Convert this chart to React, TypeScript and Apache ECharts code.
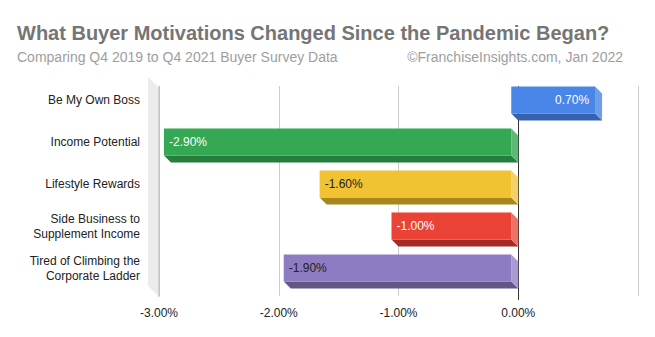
import React, { useEffect, useRef } from "react";
import * as echarts from "echarts";

const categories = [
  "Be My Own Boss",
  "Income Potential",
  "Lifestyle Rewards",
  "Side Business to\nSupplement Income",
  "Tired of Climbing the\nCorporate Ladder",
];
const values = [0.7, -2.9, -1.6, -1.0, -1.9];
const frontColors = ["#4a86e8", "#34a853", "#f1c232", "#ea4335", "#8e7cc3"];
const bottomColors = ["#3462ad", "#267d3d", "#a8871f", "#a32c23", "#625684"];
const sideColors = ["#6d9eeb", "#5dba76", "#f4d168", "#ef7266", "#a99ad4"];
const labelColors = ["#ffffff", "#ffffff", "#222222", "#ffffff", "#222222"];
const xTicks = { min: -3, max: 1, interval: 1 };

const TITLE = "What Buyer Motivations Changed Since the Pandemic Began?";
const SUBTITLE = "Comparing Q4 2019 to Q4 2021 Buyer Survey Data";
const CREDIT = "\u00A9FranchiseInsights.com, Jan 2022";

const FONT = "'Liberation Sans', Arial, sans-serif";
const D = 7; // 3D depth
const BAR_H = 27;

export default function App() {
  const ref = useRef<HTMLDivElement>(null);
  useEffect(() => {
    if (!ref.current) return;
    const chart = echarts.init(ref.current, null, { renderer: "svg" });
    const data = values.map((v, i) => [v, i]);
    chart.setOption({
      animation: false,
      backgroundColor: "#ffffff",
      title: [
        {
          text: TITLE,
          left: 12,
          top: 18,
          textStyle: { fontFamily: FONT, fontSize: 20, fontWeight: "bold", color: "#757575" },
        },
        {
          text: SUBTITLE,
          left: 12,
          top: 45,
          textStyle: { fontFamily: FONT, fontSize: 14, fontWeight: "normal", color: "#9e9e9e" },
        },
        {
          text: CREDIT,
          right: 27,
          top: 45,
          textStyle: { fontFamily: FONT, fontSize: 14, fontWeight: "normal", color: "#9e9e9e" },
        },
      ],
      grid: { left: 159, right: 17, top: 86, bottom: 41 },
      xAxis: {
        type: "value",
        min: xTicks.min,
        max: xTicks.max,
        interval: xTicks.interval,
        axisLine: { show: false },
        axisTick: { show: false },
        splitLine: { show: true, lineStyle: { color: "#cccccc", width: 1 } },
        axisLabel: {
          margin: 11,
          fontFamily: FONT,
          fontSize: 12,
          color: "#222222",
          showMaxLabel: false,
          formatter: (v: number) => (v >= xTicks.max ? "" : v.toFixed(2) + "%"),
        },
      },
      yAxis: {
        type: "category",
        data: categories,
        inverse: true,
        axisLine: { show: false },
        axisTick: { show: false },
        splitLine: { show: false },
        axisLabel: { show: false },
      },
      series: [
        {
          type: "custom",
          z: 1,
          data: [[0, 0]],
          renderItem: (params: any, api: any) => {
            const cs = params.coordSys;
            const x = cs.x;
            const y = cs.y;
            const h = cs.height;
            const x0 = api.coord([0, 0])[0];
            return {
              type: "group",
              children: [
                {
                  type: "polygon",
                  shape: {
                    points: [
                      [x - 11, y - 9],
                      [x, y + 2],
                      [x, y + h + 1],
                      [x - 11, y + h - 10],
                    ],
                  },
                  style: { fill: "#ececec" },
                },
                {
                  type: "line",
                  shape: { x1: x, y1: y, x2: x, y2: y + h + 1 },
                  style: { stroke: "#bbbbbb", lineWidth: 1 },
                },
                {
                  type: "line",
                  shape: { x1: Math.round(x0) + 0.5, y1: y, x2: Math.round(x0) + 0.5, y2: y + h + 4 },
                  style: { stroke: "#333333", lineWidth: 1 },
                },
              ],
            };
          },
        },
        {
          type: "custom",
          z: 2,
          data: categories.map((c, i) => [xTicks.min, i]),
          renderItem: (params: any, api: any) => {
            const i = params.dataIndex;
            const p = api.coord([api.value(0), api.value(1)]);
            return {
              type: "text",
              x: p[0] - 19,
              y: p[1] - D,
              style: {
                text: categories[i],
                fill: "#222222",
                font: "12px " + FONT,
                lineHeight: 15,
                align: "right",
                verticalAlign: "middle",
              },
            };
          },
        },
        {
          type: "custom",
          z: 3,
          data: data,
          renderItem: (params: any, api: any) => {
            const i = params.dataIndex;
            const v = api.value(0);
            const cat = api.value(1);
            const p0 = api.coord([0, cat]);
            const p1 = api.coord([v, cat]);
            const bx0 = Math.min(p0[0], p1[0]);
            const bx1 = Math.max(p0[0], p1[0]);
            const by0 = p0[1] - BAR_H / 2;
            const by1 = p0[1] + BAR_H / 2;
            const fx0 = bx0 - D;
            const fx1 = bx1 - D;
            const fy0 = by0 - D;
            const fy1 = by1 - D;
            const label = v.toFixed(2) + "%";
            return {
              type: "group",
              children: [
                {
                  type: "polygon",
                  shape: { points: [[fx0, fy1], [fx1, fy1], [bx1, by1], [bx0, by1]] },
                  style: { fill: bottomColors[i] },
                },
                {
                  type: "polygon",
                  shape: { points: [[fx1, fy0], [bx1, by0], [bx1, by1], [fx1, fy1]] },
                  style: { fill: sideColors[i] },
                },
                {
                  type: "rect",
                  shape: { x: fx0, y: fy0, width: fx1 - fx0, height: fy1 - fy0 },
                  style: { fill: frontColors[i] },
                },
                {
                  type: "text",
                  x: v >= 0 ? fx1 - 6 : fx0 + 5,
                  y: (fy0 + fy1) / 2,
                  style: {
                    text: label,
                    fill: labelColors[i],
                    font: "12px " + FONT,
                    align: v >= 0 ? "right" : "left",
                    verticalAlign: "middle",
                  },
                },
              ],
            };
          },
        },
      ],
    });
    return () => chart.dispose();
  }, []);
  return <div ref={ref} style={{ width: 655, height: 337, margin: -8 }} />;
}
